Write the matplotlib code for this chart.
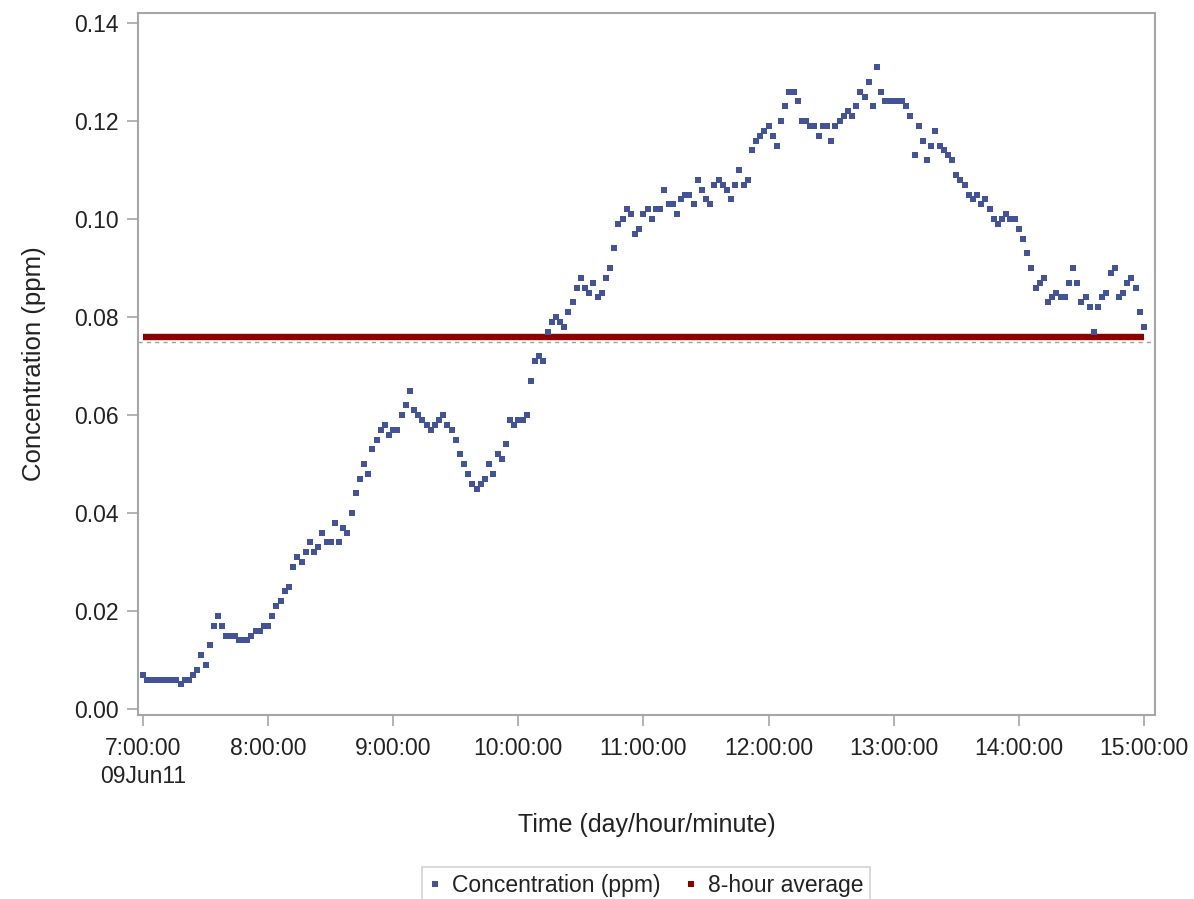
import matplotlib
matplotlib.use("Agg")
import matplotlib.pyplot as plt
from matplotlib.lines import Line2D
import numpy as np

plt.rcParams['font.family'] = ['Liberation Sans', 'DejaVu Sans']

# Concentration readings (ppb), every 2 minutes, one list per hour
h07 = [7, 6, 6, 6, 6, 6, 6, 6, 6, 5, 6, 6, 7, 8, 11, 9, 13, 17, 19, 17,
       15, 15, 15, 14, 14, 14, 15, 16, 16, 17]
h08 = [17, 19, 21, 22, 24, 25, 29, 31, 30, 32, 34, 32, 33, 36, 34, 34, 38, 34, 37, 36,
       40, 44, 47, 50, 48, 53, 55, 57, 58, 56]
h09 = [57, 57, 60, 62, 65, 61, 60, 59, 58, 57, 58, 59, 60, 58, 57, 55, 52, 50, 48, 46,
       45, 46, 47, 50, 48, 52, 51, 54, 59, 58]
h10 = [59, 59, 60, 67, 71, 72, 71, 77, 79, 80, 79, 78, 81, 83, 86, 88, 86, 85, 87, 84,
       85, 88, 90, 94, 99, 100, 102, 101, 97, 98]
h11 = [101, 102, 100, 102, 102, 106, 103, 103, 101, 104, 105, 105, 103, 108, 106, 104, 103, 107, 108, 107,
       106, 104, 107, 110, 107, 108, 114, 116, 117, 118]
h12 = [119, 117, 115, 120, 123, 126, 126, 124, 120, 120, 119, 119, 117, 119, 119, 116, 119, 120, 121, 122,
       121, 123, 126, 125, 128, 123, 131, 126, 124, 124]
h13 = [124, 124, 124, 123, 121, 113, 119, 116, 112, 115, 118, 115, 114, 113, 112, 109, 108, 107, 105, 104,
       105, 103, 104, 102, 100, 99, 100, 101, 100, 100]
h14 = [98, 96, 93, 90, 86, 87, 88, 83, 84, 85, 84, 84, 87, 90, 87, 83, 84, 82, 77, 82,
       84, 85, 89, 90, 84, 85, 87, 88, 86, 81, 78]

avg_8hr = 0.076
standard = 0.075

x_ticks = [7, 8, 9, 10, 11, 12, 13, 14, 15]
x_labels = ['7:00:00\n09Jun11', '8:00:00', '9:00:00', '10:00:00', '11:00:00',
            '12:00:00', '13:00:00', '14:00:00', '15:00:00']
y_ticks = [0.00, 0.02, 0.04, 0.06, 0.08, 0.10, 0.12, 0.14]

conc_ppb = np.array(h07 + h08 + h09 + h10 + h11 + h12 + h13 + h14, dtype=float)
conc = conc_ppb / 1000.0
hours = 7 + np.arange(len(conc)) * 2 / 60.0

fig = plt.figure(figsize=(11.94, 8.99), dpi=100)
ax = fig.add_axes([0.1156, 0.2047, 0.9673 - 0.1156, 0.9855 - 0.2047])

blue = '#43539A'
red = '#8C0000'
gray = '#A6A6A6'
txt = '#222222'

ax.axhline(standard, color='#A0A0A0', lw=1.0, ls=(0, (3, 3)), zorder=1)
ax.plot([hours[0], hours[-1]], [avg_8hr, avg_8hr], color=red, lw=4.6,
        solid_capstyle='butt', zorder=2)
ax.plot(hours, conc, ls='none', marker='s', ms=3.9, mew=0, color=blue, zorder=3)

ax.set_xlim(6.96, 15.088)
ax.set_ylim(-0.00122, 0.14204)
ax.set_xticks(x_ticks)
ax.set_xticklabels(x_labels)
ax.set_yticks(y_ticks)
ax.set_yticklabels([f'{v:.2f}' for v in y_ticks])

for s in ax.spines.values():
    s.set_color(gray)
    s.set_linewidth(1.5)
ax.tick_params(axis='both', colors=gray, length=8, width=1.2, labelsize=16.5,
               labelcolor=txt)
ax.tick_params(axis='y', pad=6)
ax.tick_params(axis='x', pad=8)
for lab in ax.get_xticklabels():
    lab.set_linespacing(1.25)

ax.set_ylabel('Concentration (ppm)', fontsize=18.5, color=txt, labelpad=20)
ax.set_xlabel('Time (day/hour/minute)', fontsize=18, color=txt, labelpad=18)

handles = [Line2D([], [], ls='none', marker='s', ms=4, mew=0, color=blue),
           Line2D([], [], ls='none', marker='s', ms=4, mew=0, color=red)]
leg = fig.legend(handles, ['Concentration (ppm)', '8-hour average'],
                 loc='upper center', bbox_to_anchor=(0.541, 1 - 867 / 899),
                 borderaxespad=0.0,
                 ncol=2, fontsize=16.5, frameon=True, fancybox=False,
                 handlelength=0.6, handletextpad=0.45, columnspacing=1.0,
                 borderpad=0.3)
leg.get_frame().set_edgecolor('#C8C8C8')
leg.get_frame().set_linewidth(1.2)
for t in leg.get_texts():
    t.set_color(txt)

fig.savefig('out.png', dpi=100)
